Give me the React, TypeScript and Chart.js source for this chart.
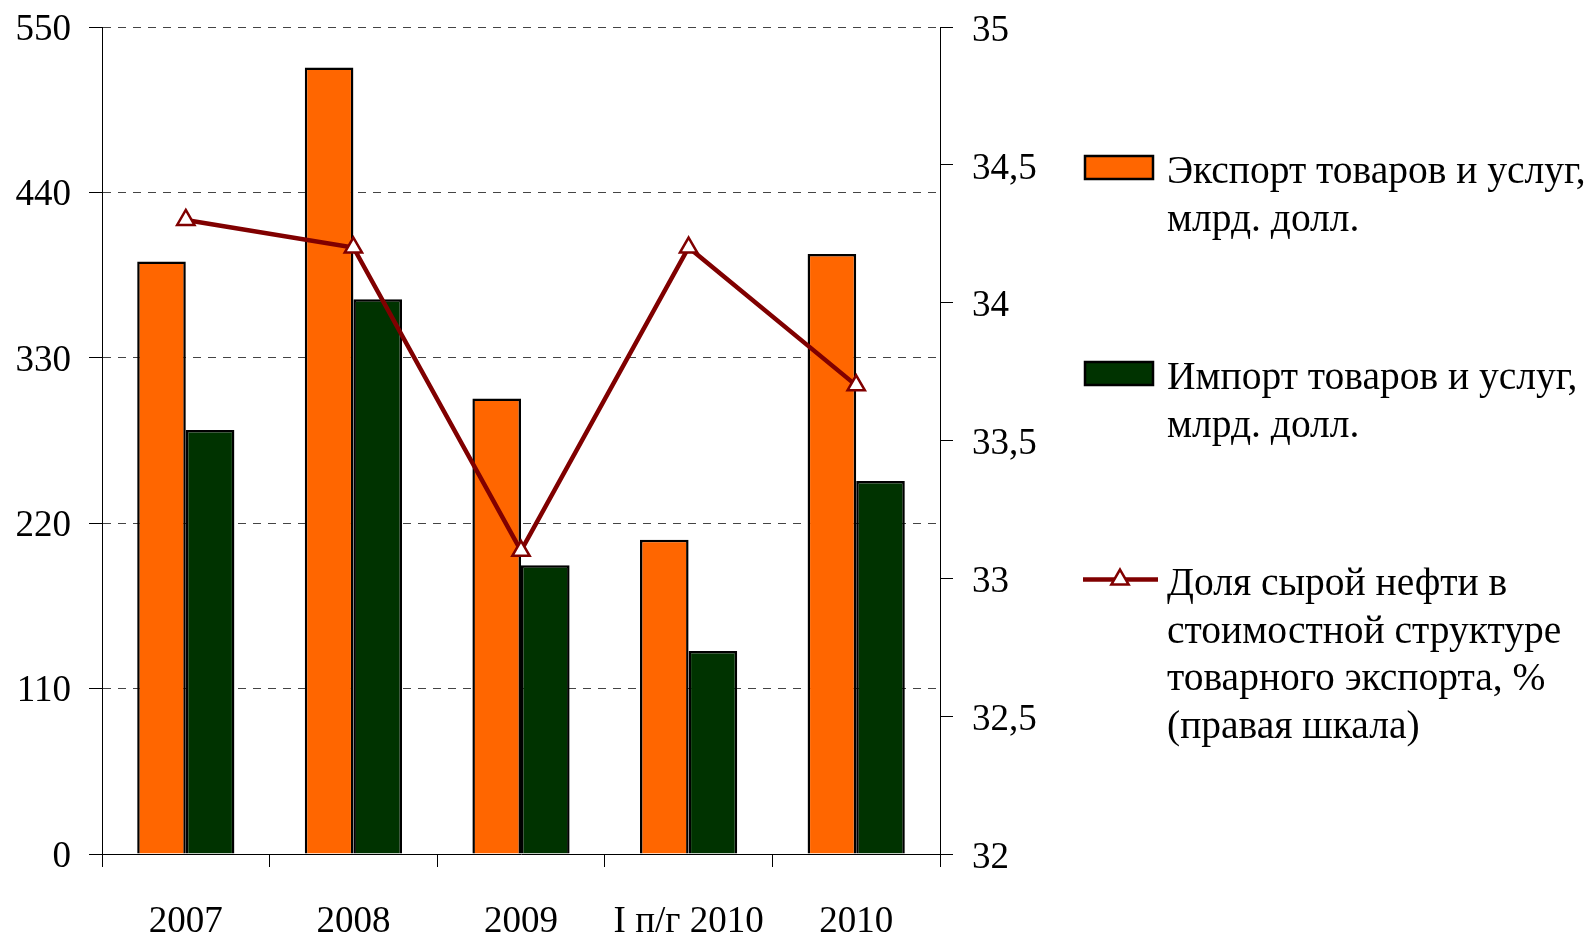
import React, { useEffect, useRef } from 'react';
import { Chart, registerables } from 'chart.js';

Chart.register(...registerables);

const categories = ['2007', '2008', '2009', 'I п/г 2010', '2010'];
const exportValues = [394, 523, 303, 209, 399];
const importValues = [282, 369, 192, 135, 248];
const oilShare = [34.3, 34.2, 33.1, 34.2, 33.7];
const leftTicks = [0, 110, 220, 330, 440, 550];
const rightTicks = [32, 32.5, 33, 33.5, 34, 34.5, 35];

const exportLabel = ['Экспорт товаров и услуг,', 'млрд. долл.'];
const importLabel = ['Импорт товаров и услуг,', 'млрд. долл.'];
const oilLabel = ['Доля сырой нефти в', 'стоимостной структуре', 'товарного экспорта, %', '(правая шкала)'];

const FONT = '"Liberation Serif", "Times New Roman", serif';
const ORANGE = '#FF6600';
const GREEN = '#003300';
const MAROON = '#800000';

const legendPlugin = {
  id: 'customLegend',
  afterDraw(chart: any) {
    const ctx = chart.ctx as CanvasRenderingContext2D;
    ctx.save();
    ctx.font = `39.5px ${FONT}`;
    ctx.fillStyle = '#000';
    ctx.textBaseline = 'alphabetic';
    ctx.textAlign = 'left';
    const textX = 1167;
    const lineH = 47.5;
    const items = [
      { kind: 'box', color: ORANGE, centerY: 167.5, lines: exportLabel },
      { kind: 'box', color: GREEN, centerY: 373.5, lines: importLabel },
      { kind: 'line', color: MAROON, centerY: 579.5, lines: oilLabel },
    ];
    items.forEach((it) => {
      if (it.kind === 'box') {
        ctx.fillStyle = it.color;
        ctx.fillRect(1084, it.centerY - 12.5, 70, 25);
        ctx.lineWidth = 2.5;
        ctx.strokeStyle = '#000';
        ctx.strokeRect(1085, it.centerY - 11.5, 68, 23);
      } else {
        ctx.strokeStyle = it.color;
        ctx.lineWidth = 4.5;
        ctx.beginPath();
        ctx.moveTo(1083, it.centerY);
        ctx.lineTo(1158, it.centerY);
        ctx.stroke();
        const r = 10;
        const cx = 1120;
        const cy = it.centerY;
        ctx.beginPath();
        ctx.moveTo(cx, cy - r);
        ctx.lineTo(cx + r * Math.sin(Math.PI / 3), cy + r / 2);
        ctx.lineTo(cx - r * Math.sin(Math.PI / 3), cy + r / 2);
        ctx.closePath();
        ctx.fillStyle = '#fff';
        ctx.fill();
        ctx.lineWidth = 2.5;
        ctx.stroke();
      }
      ctx.fillStyle = '#000';
      it.lines.forEach((ln, i) => {
        ctx.fillText(ln, textX, it.centerY + 15.5 + i * lineH);
      });
    });
    ctx.restore();
  },
};

const noPad = (s: any) => {
  s.paddingTop = 0;
  s.paddingBottom = 0;
};

export default function App() {
  const ref = useRef<HTMLCanvasElement | null>(null);

  useEffect(() => {
    document.body.style.margin = '0';
    document.body.style.overflow = 'hidden';
    if (!ref.current) return;
    Chart.defaults.font.family = FONT;
    Chart.defaults.color = '#000';
    const chart = new Chart(ref.current, {
      type: 'bar',
      data: {
        labels: categories,
        datasets: [
          {
            type: 'line',
            label: oilLabel.join(' '),
            data: oilShare,
            yAxisID: 'y1',
            borderColor: MAROON,
            borderWidth: 4.5,
            pointStyle: 'triangle',
            pointRadius: 10,
            pointBackgroundColor: '#fff',
            pointBorderColor: MAROON,
            pointBorderWidth: 2.5,
            tension: 0,
            order: 0,
          } as any,
          {
            type: 'bar',
            label: exportLabel.join(' '),
            data: exportValues,
            yAxisID: 'y',
            backgroundColor: ORANGE,
            borderColor: '#000',
            borderWidth: 2.5,
            categoryPercentage: 0.58,
            barPercentage: 1,
            order: 1,
          },
          {
            type: 'bar',
            label: importLabel.join(' '),
            data: importValues,
            yAxisID: 'y',
            backgroundColor: GREEN,
            borderColor: '#000',
            borderWidth: 2.5,
            categoryPercentage: 0.58,
            barPercentage: 1,
            order: 1,
          },
        ],
      },
      options: {
        responsive: false,
        animation: false,
        layout: { padding: { top: 27, left: 0, right: 0, bottom: 0 } },
        plugins: { legend: { display: false }, tooltip: { enabled: false } },
        scales: {
          x: {
            offset: true,
            grid: {
              offset: true,
              drawOnChartArea: false,
              drawTicks: true,
              tickLength: 13,
              color: '#000',
              tickColor: '#000',
              lineWidth: 1,
            },
            border: { display: true, color: '#000', width: 1 },
            ticks: {
              font: { family: FONT, size: 37 },
              color: '#000',
              padding: 33,
              maxRotation: 0,
              autoSkip: false,
            },
            afterFit: (s: any) => {
              s.height = 83;
            },
          },
          y: {
            position: 'left',
            min: 0,
            max: 550,
            afterBuildTicks: (s: any) => {
              s.ticks = leftTicks.map((v) => ({ value: v }));
            },
            grid: {
              drawOnChartArea: true,
              drawTicks: true,
              tickLength: 13,
              color: (c: any) => (c.tick && c.tick.value === 0 ? 'rgba(0,0,0,0)' : '#444'),
              tickColor: '#000',
              lineWidth: 1,
              tickBorderDash: [],
            } as any,
            border: { display: true, color: '#000', width: 1, dash: [8, 7] },
            ticks: {
              font: { family: FONT, size: 37 },
              color: '#000',
              padding: 18,
              labelOffset: 3,
            },
            afterFit: (s: any) => {
              s.width = 102;
              noPad(s);
            },
          },
          y1: {
            position: 'right',
            min: 32,
            max: 35,
            afterBuildTicks: (s: any) => {
              s.ticks = rightTicks.map((v) => ({ value: v }));
            },
            grid: {
              drawOnChartArea: false,
              drawTicks: true,
              tickLength: 13,
              color: '#000',
              tickColor: '#000',
              lineWidth: 1,
            },
            border: { display: true, color: '#000', width: 1 },
            ticks: {
              font: { family: FONT, size: 37 },
              color: '#000',
              padding: 19,
              labelOffset: 4,
              callback: (v: any) => String(v).replace('.', ','),
            },
            afterFit: (s: any) => {
              s.width = 651;
              noPad(s);
            },
          },
        },
      },
      plugins: [legendPlugin],
    });
    return () => chart.destroy();
  }, []);

  return (
    <div style={{ width: 1591, height: 937 }}>
      <canvas ref={ref} width={1591} height={937} style={{ display: 'block' }} />
    </div>
  );
}
